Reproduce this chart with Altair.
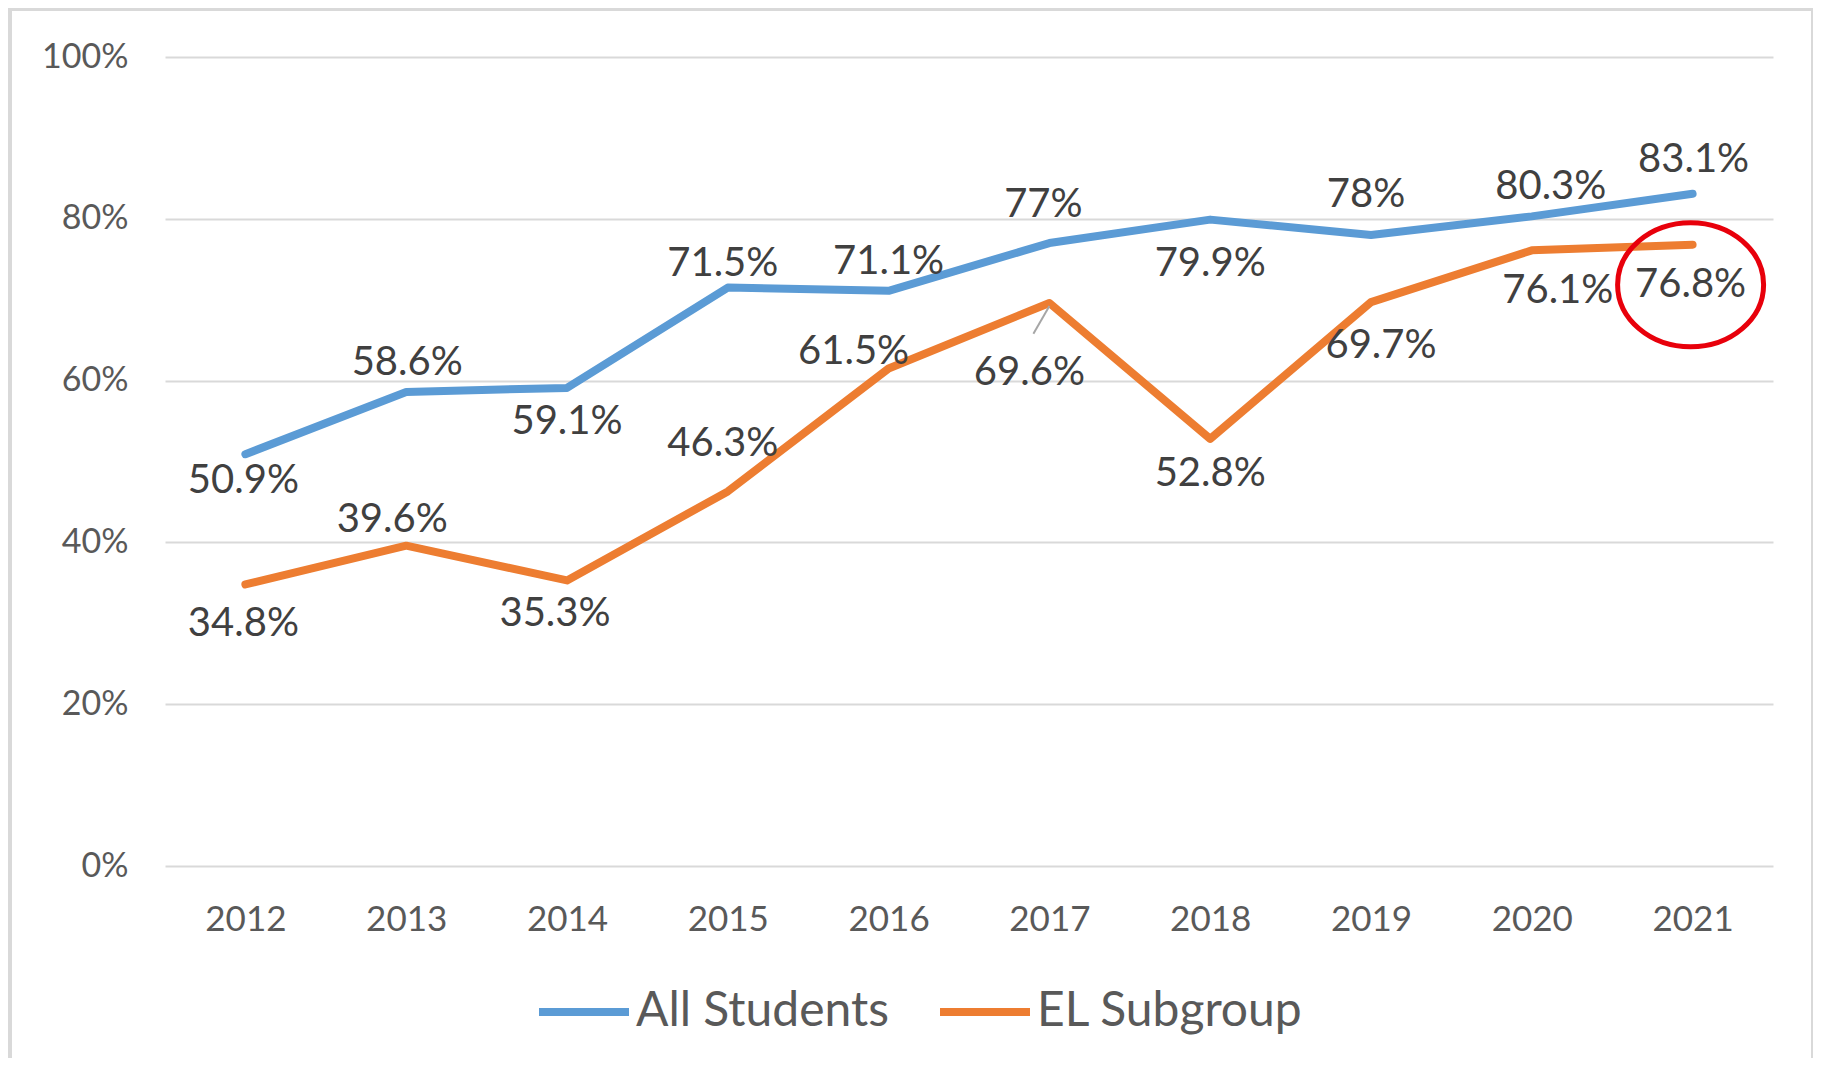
import altair as alt
import pandas as pd

years = [2012, 2013, 2014, 2015, 2016, 2017, 2018, 2019, 2020, 2021]
all_students = [50.9, 58.6, 59.1, 71.5, 71.1, 77, 79.9, 78, 80.3, 83.1]
el_subgroup = [34.8, 39.6, 35.3, 46.3, 61.5, 69.6, 52.8, 69.7, 76.1, 76.8]
series_names = ["All Students", "EL Subgroup"]
series_colors = ["#5b9bd5", "#ed7d31"]
y_ticks = [0, 20, 40, 60, 80, 100]

# data-label placement (pixels: right, down) relative to each point
all_dx = [-2, 1, 0, -5, 0, -6, 0, -5, 19, 1]
all_dy = [27, -29, 34, -24, -29, -38, 44, -40, -29, -34]
el_dx = [-2, -14, -12, -5, -35, -20, 0, 10, 26, -2]
el_dy = [40, -26, 34, -47, -16, 70, 35, 44, 41, 40]

W, H = 1608, 809
PX_X = 10.0 / W     # years per pixel
PX_Y = 100.0 / H    # percent per pixel

rows = []
for name, vals, dxs, dys in [
    (series_names[0], all_students, all_dx, all_dy),
    (series_names[1], el_subgroup, el_dx, el_dy),
]:
    for yr, v, dx, dy in zip(years, vals, dxs, dys):
        rows.append({"year": yr, "value": v, "series": name, "dx": dx, "dy": dy})
df = pd.DataFrame(rows)

FONT = "Lato"
xscale = alt.Scale(domain=[2011.5, 2021.5], nice=False, zero=False)
yscale = alt.Scale(domain=[0, 100], nice=False)
color = alt.Color(
    "series:N",
    scale=alt.Scale(domain=series_names, range=series_colors),
    legend=alt.Legend(
        orient="none", legendX=370, legendY=906, direction="horizontal",
        title=None, symbolType="stroke", symbolSize=8100, symbolStrokeWidth=8,
        labelFontSize=48, labelFont=FONT, labelColor="#595959", labelLimit=600,
        labelOffset=3, columnPadding=35,
    ),
)

base = alt.Chart(df)

lines = base.mark_line(strokeWidth=8, strokeCap="round", strokeJoin="round").encode(
    x=alt.X("year:Q", scale=xscale,
            axis=alt.Axis(values=years, format="d", title=None, grid=False, domain=False,
                          ticks=False, labelFontSize=35, labelFont=FONT,
                          labelColor="#595959", labelPadding=36)),
    y=alt.Y("value:Q", scale=yscale,
            axis=alt.Axis(values=y_ticks, labelExpr="datum.value + '%'", title=None,
                          domain=False, ticks=False, gridColor="#d9d9d9", gridWidth=2,
                          labelFontSize=34, labelFont=FONT, labelColor="#595959",
                          labelPadding=37)),
    color=color,
)

labels = base.transform_calculate(
    lx=f"datum.year + datum.dx * {PX_X}",
    ly=f"datum.value - datum.dy * {PX_Y}",
    txt="datum.value + '%'",
).mark_text(fontSize=40, font=FONT, color="#404040", align="center", baseline="middle").encode(
    x=alt.X("lx:Q", scale=xscale),
    y=alt.Y("ly:Q", scale=yscale),
    text="txt:N",
)

leader = base.transform_filter("datum.dy > 60").transform_calculate(
    x1=f"datum.year",
    y1=f"datum.value - 3 * {PX_Y}",
    x2=f"datum.year + datum.dx * 0.8 * {PX_X}",
    y2=f"datum.value - datum.dy * 0.44 * {PX_Y}",
).mark_rule(color="#a6a6a6", strokeWidth=2).encode(
    x=alt.X("x1:Q", scale=xscale),
    y=alt.Y("y1:Q", scale=yscale),
    x2="x2:Q",
    y2="y2:Q",
)

highlight = base.transform_filter(
    f"datum.series == '{series_names[1]}' && datum.year == {years[-1]}"
).transform_calculate(
    lx=f"datum.year + datum.dx * {PX_X}",
    ly=f"datum.value - datum.dy * {PX_Y}",
).mark_point(
    shape="M -1 0 A 1 0.85 0 1 0 1 0 A 1 0.85 0 1 0 -1 0 Z",
    size=146 * 146, filled=False, stroke="#e8000b", strokeWidth=5, opacity=1,
).encode(
    x=alt.X("lx:Q", scale=xscale),
    y=alt.Y("ly:Q", scale=yscale),
)

one = pd.DataFrame({"k": [0]})
frame_style = dict(color="#d9d9d9", strokeWidth=4)
frame_left = alt.Chart(one).mark_rule(**frame_style).encode(
    x=alt.value(-155), y=alt.value(-49), y2=alt.value(1100))
frame_right = alt.Chart(one).mark_rule(**frame_style).encode(
    x=alt.value(1648), y=alt.value(-49), y2=alt.value(1100))
frame_top = alt.Chart(one).mark_rule(**frame_style).encode(
    x=alt.value(-157), x2=alt.value(1650), y=alt.value(-48))

chart = alt.layer(frame_left, frame_right, frame_top, lines, leader, labels, highlight).properties(
    width=W, height=H,
    background="white",
    padding={"left": 157, "top": 49, "right": 40, "bottom": 192},
    autosize=alt.AutoSizeParams(type="none"),
).configure_view(stroke=None)

chart.save("out.html", embed_options={"renderer": "svg", "actions": False})
